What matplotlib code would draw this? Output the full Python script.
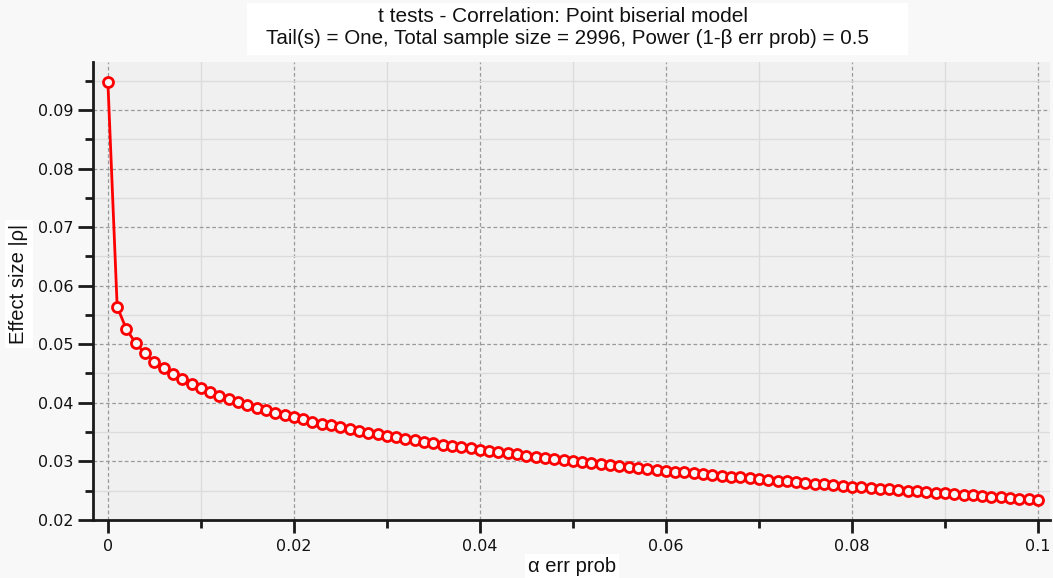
import matplotlib
matplotlib.use("Agg")
import matplotlib.pyplot as plt
from matplotlib.patches import Rectangle
from matplotlib.ticker import FixedLocator

# alpha err prob (x) values
alpha = [0.0,
         0.001, 0.002, 0.003, 0.004, 0.005, 0.006, 0.007, 0.008, 0.009, 0.010,
         0.011, 0.012, 0.013, 0.014, 0.015, 0.016, 0.017, 0.018, 0.019, 0.020,
         0.021, 0.022, 0.023, 0.024, 0.025, 0.026, 0.027, 0.028, 0.029, 0.030,
         0.031, 0.032, 0.033, 0.034, 0.035, 0.036, 0.037, 0.038, 0.039, 0.040,
         0.041, 0.042, 0.043, 0.044, 0.045, 0.046, 0.047, 0.048, 0.049, 0.050,
         0.051, 0.052, 0.053, 0.054, 0.055, 0.056, 0.057, 0.058, 0.059, 0.060,
         0.061, 0.062, 0.063, 0.064, 0.065, 0.066, 0.067, 0.068, 0.069, 0.070,
         0.071, 0.072, 0.073, 0.074, 0.075, 0.076, 0.077, 0.078, 0.079, 0.080,
         0.081, 0.082, 0.083, 0.084, 0.085, 0.086, 0.087, 0.088, 0.089, 0.090,
         0.091, 0.092, 0.093, 0.094, 0.095, 0.096, 0.097, 0.098, 0.099, 0.100]

# Effect size |rho| (y) values
effect = [0.0948,
          0.05639, 0.05253, 0.05016, 0.04841, 0.04702, 0.04586, 0.04487, 0.04398, 0.04319, 0.04248,
          0.04182, 0.04122, 0.04065, 0.04013, 0.03963, 0.03916, 0.03872, 0.03830, 0.03789, 0.03751,
          0.03714, 0.03679, 0.03644, 0.03612, 0.03580, 0.03549, 0.03519, 0.03490, 0.03463, 0.03435,
          0.03409, 0.03383, 0.03358, 0.03334, 0.03310, 0.03286, 0.03264, 0.03241, 0.03219, 0.03198,
          0.03177, 0.03156, 0.03136, 0.03116, 0.03097, 0.03078, 0.03059, 0.03041, 0.03023, 0.03005,
          0.02987, 0.02970, 0.02953, 0.02936, 0.02920, 0.02903, 0.02887, 0.02871, 0.02856, 0.02840,
          0.02825, 0.02810, 0.02795, 0.02781, 0.02766, 0.02752, 0.02738, 0.02724, 0.02710, 0.02696,
          0.02683, 0.02669, 0.02656, 0.02643, 0.02630, 0.02617, 0.02604, 0.02592, 0.02579, 0.02567,
          0.02555, 0.02543, 0.02531, 0.02519, 0.02507, 0.02495, 0.02484, 0.02472, 0.02461, 0.02450,
          0.02438, 0.02427, 0.02416, 0.02405, 0.02395, 0.02384, 0.02373, 0.02362, 0.02352, 0.02342]

x_ticks = [0, 0.02, 0.04, 0.06, 0.08, 0.1]
x_ticklabels = ["0", "0.02", "0.04", "0.06", "0.08", "0.1"]
y_ticks = [0.02, 0.03, 0.04, 0.05, 0.06, 0.07, 0.08, 0.09]
y_ticklabels = ["0.02", "0.03", "0.04", "0.05", "0.06", "0.07", "0.08", "0.09"]

title1 = "t tests - Correlation: Point biserial model"
title2 = "Tail(s) = One, Total sample size = 2996, Power (1-\u03b2 err prob) = 0.5"
xlabel = "\u03b1 err prob"
ylabel = "Effect size |\u03c1|"

W, H = 1053, 578
fig = plt.figure(figsize=(W / 100, H / 100), dpi=100, facecolor="#f8f8f8")
ax = fig.add_axes([93 / W, 1 - 520 / H, (1050 - 93) / W, (520 - 62) / H])
ax.set_facecolor("#f0f0f0")

ax.set_xlim(-0.0016, 0.1013)
ax.set_ylim(0.01997, 0.0982)

ax.xaxis.set_major_locator(FixedLocator(x_ticks))
ax.xaxis.set_minor_locator(FixedLocator([0.01, 0.03, 0.05, 0.07, 0.09]))
ax.yaxis.set_major_locator(FixedLocator(y_ticks))
ax.yaxis.set_minor_locator(FixedLocator([0.025, 0.035, 0.045, 0.055, 0.065, 0.075, 0.085, 0.095]))
ax.set_xticklabels(x_ticklabels)
ax.set_yticklabels(y_ticklabels)
ax.grid(which="minor", color="#dcdcdc", linestyle="-", linewidth=1.0)
ax.grid(which="major", color="#9a9a9a", linestyle=(0, (3, 2)), linewidth=0.9)
ax.set_axisbelow(True)

for s in ["top", "right"]:
    ax.spines[s].set_visible(False)
for s in ["left", "bottom"]:
    ax.spines[s].set_color("#1a1a1a")
    ax.spines[s].set_linewidth(2.0)

ax.tick_params(axis="y", which="major", direction="out", length=11, width=2.0,
               color="#1a1a1a", labelsize=11.5, labelcolor="#111111", pad=3)
ax.tick_params(axis="y", which="minor", direction="out", length=6, width=2.0,
               color="#1a1a1a")
ax.tick_params(axis="x", which="major", direction="out", length=9.5, width=2.0,
               color="#1a1a1a", labelsize=11.5, labelcolor="#111111", pad=4)
ax.tick_params(axis="x", which="minor", direction="out", length=5.5, width=2.0,
               color="#1a1a1a")
for lab in ax.get_xticklabels() + ax.get_yticklabels():
    lab.set_family("DejaVu Sans")

ax.plot(alpha, effect, color="#ff0000", linewidth=2.0, marker="o",
        markersize=7.2, markerfacecolor="#f6f6f6", markeredgecolor="#ff0000",
        markeredgewidth=2.0, clip_on=False, zorder=5)

# title box
fig.patches.append(Rectangle((247 / W, 1 - 55 / H), (908 - 247) / W, 52 / H,
                             transform=fig.transFigure, facecolor="white",
                             edgecolor="none", zorder=0))
fig.text(563 / W, 1 - 16 / H, title1, ha="center", va="center", fontsize=15,
         family="Liberation Sans", color="#111111")
fig.text(567 / W, 1 - 38 / H, title2, ha="center", va="center", fontsize=14.8,
         family="Liberation Sans", color="#111111")

# axis labels with white boxes
fig.text(572 / W, 1 - 566 / H, xlabel, ha="center", va="center", fontsize=14.5,
         family="Liberation Sans", color="#111111",
         bbox=dict(facecolor="white", edgecolor="none", pad=2))
fig.text(19 / W, 1 - 284 / H, ylabel, ha="center", va="center", fontsize=14.5,
         rotation=90, family="Liberation Sans", color="#111111",
         bbox=dict(facecolor="white", edgecolor="none", pad=3))

fig.savefig("out.png", dpi=100, facecolor=fig.get_facecolor())
